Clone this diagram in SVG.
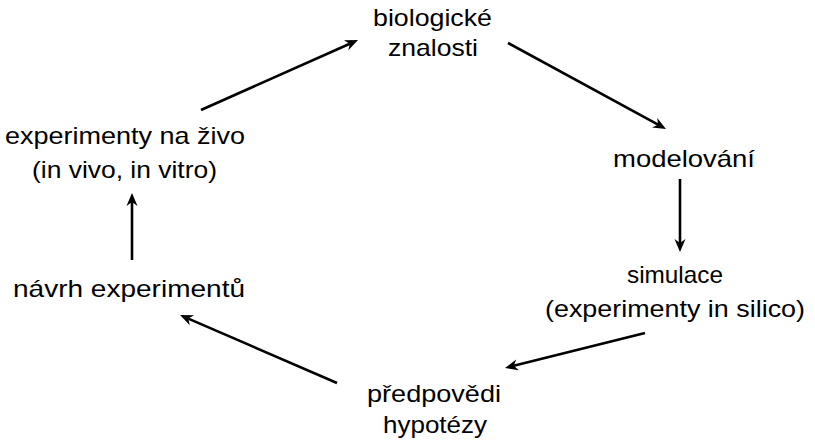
<svg xmlns="http://www.w3.org/2000/svg" width="815" height="444" viewBox="0 0 815 444">
<defs>
<style>
text{font-family:"Liberation Sans",Arial,Helvetica,sans-serif;font-size:24px;fill:#000;text-anchor:middle}
.c line{stroke:#000;stroke-width:2.6;marker-end:url(#ah)}
</style>
<marker id="ah" markerUnits="userSpaceOnUse" markerWidth="16" markerHeight="14" refX="4" refY="7" orient="auto" overflow="visible">
<path d="M13,7 L0,1.5 L4,7 L0,12.5 Z" fill="#000"/>
</marker>
</defs>
<rect width="815" height="444" fill="#fff"/>
<g id="n1"><text x="432.5" y="26" textLength="119" lengthAdjust="spacingAndGlyphs">biologické</text><text x="433" y="56" textLength="90" lengthAdjust="spacingAndGlyphs">znalosti</text></g>
<g id="n2"><text x="684" y="167" textLength="142" lengthAdjust="spacingAndGlyphs">modelování</text></g>
<g id="n3"><text x="675" y="283" textLength="96" lengthAdjust="spacingAndGlyphs">simulace</text><text x="675" y="317" textLength="260" lengthAdjust="spacingAndGlyphs">(experimenty in silico)</text></g>
<g id="n4"><text x="434" y="402" textLength="134" lengthAdjust="spacingAndGlyphs">předpovědi</text><text x="435" y="433" textLength="104" lengthAdjust="spacingAndGlyphs">hypotézy</text></g>
<g id="n5"><text x="129" y="297" textLength="232" lengthAdjust="spacingAndGlyphs">návrh experimentů</text></g>
<g id="n6"><text x="125" y="144" textLength="240" lengthAdjust="spacingAndGlyphs">experimenty na živo</text><text x="124.5" y="178" textLength="185" lengthAdjust="spacingAndGlyphs">(in vivo, in vitro)</text></g>
<g id="connectors" class="c">
<line x1="201" y1="110" x2="349.8" y2="43.7"/>
<line x1="508" y1="43" x2="658.1" y2="124.7"/>
<line x1="680" y1="179" x2="680" y2="243"/>
<line x1="645" y1="333" x2="513.7" y2="365.8"/>
<line x1="337" y1="383" x2="188.3" y2="318.6"/>
<line x1="132" y1="260" x2="132" y2="202"/>
</g>
</svg>
